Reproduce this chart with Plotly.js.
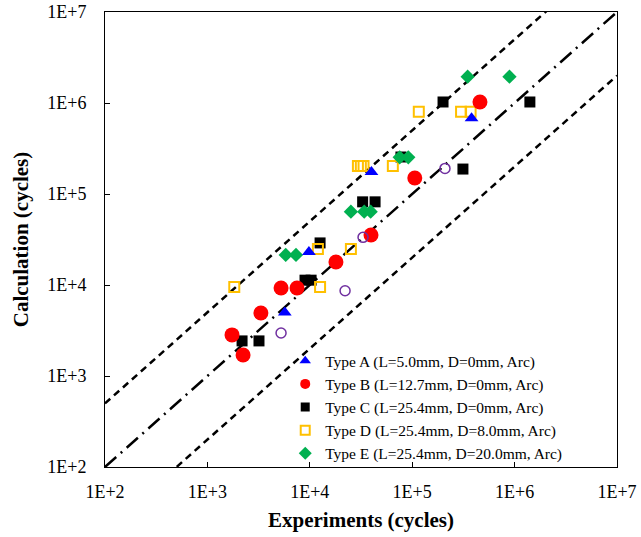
<!DOCTYPE html>
<html>
<head>
<meta charset="utf-8">
<script src="https://cdn.plot.ly/plotly-3.0.1.min.js"></script>
<style>html,body{margin:0;padding:0;background:#fff;}#chart{width:641px;height:537px;}</style>
</head>
<body>
<div id="chart"></div>
<script>
// ---- data ----
const typeA_x = [5700, 9800, 40000, 380000];
const typeA_y = [5000, 23000, 175000, 680000];

const typeB_x = [1740, 2230, 3330, 5240, 7500, 18000, 39600, 106000, 459000];
const typeB_y = [2830, 1700, 4920, 9270, 9270, 17900, 35400, 150000, 1026000];

const typeC_x = [2180, 3190, 8980, 10300, 12600, 32800, 43400, 77600, 200000, 313000, 1410000];
const typeC_y = [2430, 2430, 11300, 11300, 29000, 82000, 82000, 255000, 1026000, 188000, 1026000];

const typeD_x = [1830, 12000, 12600, 25200, 29500, 31500, 33500, 64700, 116000, 300000, 372000];
const typeD_y = [9500, 24900, 9500, 24900, 203000, 203000, 203000, 203000, 802000, 802000, 802000];

const typeE_x = [5820, 7330, 25200, 34000, 39300, 75500, 91600, 348000, 891000];
const typeE_y = [21400, 21400, 64000, 64000, 64000, 253000, 253000, 1946000, 1946000];

const other_x = [5240, 22100, 33100, 209000];
const other_y = [2970, 8650, 33400, 191000];

const seriesNames = [
  "Type A (L=5.0mm, D=0mm, Arc)",
  "Type B (L=12.7mm, D=0mm, Arc)",
  "Type C (L=25.4mm, D=0mm, Arc)",
  "Type D (L=25.4mm, D=8.0mm, Arc)",
  "Type E (L=25.4mm, D=20.0mm, Arc)"
];

// reference lines: calculation = factor * experiment
const lineX = [1e2, 1e7];
const lineFactors = [5, 1, 0.2];

const tickValues = [1e2, 1e3, 1e4, 1e5, 1e6, 1e7];
const tickLabels = ["1E+2", "1E+3", "1E+4", "1E+5", "1E+6", "1E+7"];

const xTitle = "Experiments (cycles)";
const yTitle = "Calculation (cycles)";

// ---- styles ----
const FONT = "Liberation Serif, Times New Roman, serif";
const dashes = ["7px,5px", "15px,6px,2px,6px", "7px,5px"];
const styles = [
  {symbol: "triangle-up", color: "#0000ff", size: 12, legSize: 10},
  {symbol: "circle", color: "#ff0000", size: 15, legSize: 10},
  {symbol: "square", color: "#000000", size: 11, legSize: 9},
  {symbol: "square-open", color: "#ffc000", size: 10, legSize: 9, lw: 2},
  {symbol: "diamond", color: "#00b050", size: 11, legSize: 10}
];
const seriesX = [typeA_x, typeB_x, typeC_x, typeD_x, typeE_x];
const seriesY = [typeA_y, typeB_y, typeC_y, typeD_y, typeE_y];

function mk(st, size) {
  const m = {symbol: st.symbol, color: st.color, size: size};
  m.line = {width: st.lw || 0, color: st.color};
  return m;
}

const traces = [];
lineFactors.forEach((f, i) => {
  traces.push({
    x: lineX, y: lineX.map(v => v * f), mode: "lines", type: "scatter",
    line: {color: "#000", width: 2.5, dash: dashes[i]},
    showlegend: false, hoverinfo: "skip"
  });
});

// drawing order: C, D, E, B, A (so overlaps match the reference)
[2, 3, 4, 1, 0].forEach(i => {
  traces.push({x: seriesX[i], y: seriesY[i], mode: "markers", type: "scatter",
    showlegend: false, marker: mk(styles[i], styles[i].size)});
});
traces.push({x: other_x, y: other_y, mode: "markers", type: "scatter", showlegend: false,
  marker: {symbol: "circle-open", color: "#7030a0", size: 10, line: {width: 1.5, color: "#7030a0"}}});

// legend entries (no data, smaller symbols like the reference legend)
[0, 1, 2, 3, 4].forEach(i => {
  traces.push({x: [null], y: [null], mode: "markers", type: "scatter",
    name: seriesNames[i], showlegend: true, marker: mk(styles[i], styles[i].legSize)});
});

const axisCommon = {
  type: "log", tickvals: tickValues, ticktext: tickLabels,
  showgrid: false, zeroline: false, showline: true, mirror: true,
  linecolor: "#000", linewidth: 1, ticks: "inside", ticklen: 5, tickcolor: "#000",
  tickfont: {family: FONT, size: 18, color: "#000"}
};

const layout = {
  width: 641, height: 537,
  margin: {l: 105, r: 24, t: 12, b: 70},
  paper_bgcolor: "#fff", plot_bgcolor: "#fff",
  font: {family: FONT, color: "#000"},
  xaxis: Object.assign({}, axisCommon, {
    range: [2, 7], ticklabelstandoff: 8,
    title: {text: xTitle, font: {family: FONT, size: 21, color: "#000", weight: "bold"}, standoff: 11}
  }),
  yaxis: Object.assign({}, axisCommon, {
    range: [2, 7], ticklabelstandoff: 14,
    title: {text: yTitle, font: {family: FONT, size: 21, color: "#000", weight: "bold"}, standoff: 12}
  }),
  legend: {
    x: 0.352, y: 0.27, xanchor: "left", yanchor: "top",
    bgcolor: "rgba(0,0,0,0)", borderwidth: 0,
    font: {family: FONT, size: 15.5, color: "#000"},
    tracegroupgap: 0, itemwidth: 30
  },
  showlegend: true
};

Plotly.newPlot("chart", traces, layout, {displayModeBar: false, staticPlot: true});
</script>
</body>
</html>
